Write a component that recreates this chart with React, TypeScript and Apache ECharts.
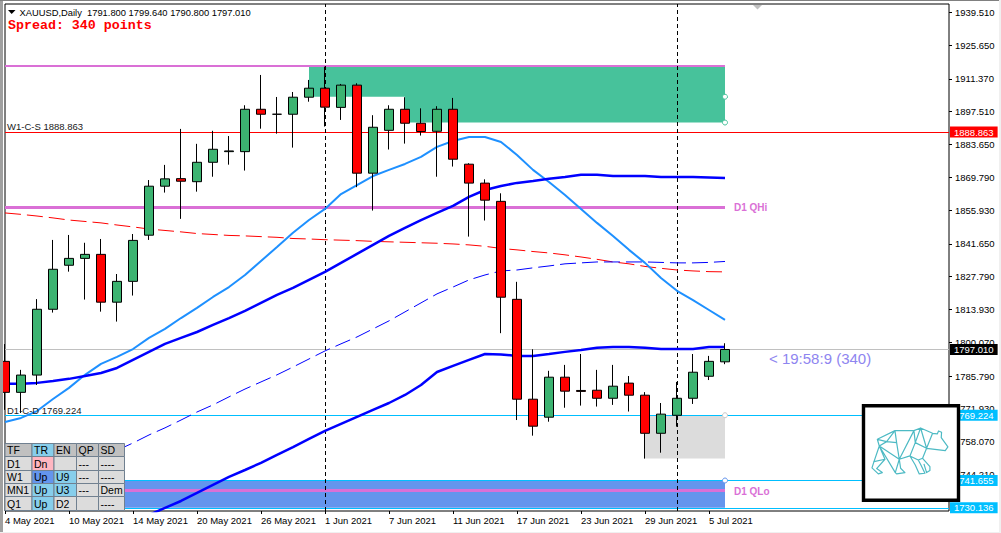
import React, { useEffect, useRef } from "react";
import * as echarts from "echarts";

const FONT = '"Liberation Sans", Arial, sans-serif';

const dates = [
  "4 May 2021","5 May 2021","6 May 2021","7 May 2021","10 May 2021","11 May 2021","12 May 2021","13 May 2021",
  "14 May 2021","17 May 2021","18 May 2021","19 May 2021","20 May 2021","21 May 2021","24 May 2021","25 May 2021",
  "26 May 2021","27 May 2021","28 May 2021","31 May 2021","1 Jun 2021","2 Jun 2021","3 Jun 2021","4 Jun 2021",
  "7 Jun 2021","8 Jun 2021","9 Jun 2021","10 Jun 2021","11 Jun 2021","14 Jun 2021","15 Jun 2021","16 Jun 2021",
  "17 Jun 2021","18 Jun 2021","21 Jun 2021","22 Jun 2021","23 Jun 2021","24 Jun 2021","25 Jun 2021","28 Jun 2021",
  "29 Jun 2021","30 Jun 2021","1 Jul 2021","2 Jul 2021","5 Jul 2021","6 Jul 2021",
];
const futureSlots = ["+1","+2","+3","+4","+5","+6","+7","+8","+9","+10","+11","+12","+13","+14"];

// open, close, low, high
const ohlc = [
  [1792.0,1778.9,1771.5,1799.3],[1778.9,1786.2,1770.2,1788.4],[1786.2,1814.0,1782.0,1818.3],[1814.0,1830.9,1812.6,1843.3],
  [1832.6,1835.5,1829.9,1845.4],[1835.5,1837.2,1818.1,1842.1],[1837.2,1817.0,1813.0,1843.7],[1817.0,1825.8,1808.8,1828.9],
  [1825.8,1843.1,1819.8,1845.8],[1845.3,1866.0,1843.3,1868.6],[1866.0,1869.1,1863.3,1875.0],[1869.2,1868.1,1852.2,1890.2],
  [1867.9,1876.1,1863.7,1883.9],[1876.1,1881.6,1870.0,1889.4],[1880.6,1880.9,1875.1,1887.2],[1880.6,1898.5,1872.6,1900.2],
  [1898.5,1896.4,1890.3,1913.0],[1896.4,1896.4,1888.2,1903.7],[1896.4,1903.6,1882.3,1905.8],[1903.6,1907.4,1901.7,1910.9],
  [1907.4,1899.4,1891.2,1916.5],[1899.3,1908.7,1894.0,1909.2],[1908.7,1871.5,1865.6,1909.5],[1871.5,1890.9,1855.7,1896.0],
  [1889.6,1898.5,1881.5,1900.2],[1898.5,1892.6,1884.0,1903.6],[1892.6,1889.1,1887.4,1898.9],[1889.2,1898.5,1870.0,1899.8],
  [1898.5,1877.4,1874.3,1903.3],[1875.3,1867.3,1844.7,1875.7],[1867.3,1860.1,1851.5,1868.9],[1859.6,1819.1,1803.9,1863.0],
  [1818.2,1776.0,1767.2,1825.6],[1776.0,1764.6,1760.6,1797.1],[1768.4,1785.3,1766.5,1788.0],[1785.3,1779.4,1772.4,1790.5],
  [1779.7,1779.3,1773.3,1795.1],[1779.8,1776.4,1772.9,1788.4],[1776.4,1781.5,1773.6,1790.5],[1782.8,1777.7,1770.8,1785.8],
  [1777.7,1761.6,1750.9,1779.0],[1761.6,1769.7,1753.4,1774.4],[1769.2,1776.4,1764.4,1783.3],[1776.4,1787.4,1774.0,1795.1],
  [1785.7,1792.0,1784.1,1794.3],[1791.8,1797.01,1790.8,1799.64],
];

const maLight = [
  1766.4,1768.1,1771.0,1776.1,1780.8,1786.3,1790.9,1793.9,1797.2,1801.9,1805.7,1810.3,1814.6,1819.2,1823.4,1828.5,
  1834.4,1840.3,1846.3,1851.7,1856.4,1862.7,1866.5,1870.3,1872.9,1875.4,1878.4,1882.6,1885.1,1886.8,1886.8,1884.7,
  1879.2,1872.9,1867.8,1862.3,1856.4,1850.5,1845.0,1839.1,1833.6,1827.2,1821.8,1817.9,1813.7,1809.5,
];
const maBlueUpper = [
  1782.5,1782.5,1782.9,1783.7,1784.6,1785.8,1787.1,1789.2,1792.6,1796.0,1799.4,1801.9,1804.4,1807.4,1810.3,1813.3,
  1816.7,1820.1,1823.0,1826.4,1829.8,1833.6,1837.4,1841.2,1845.0,1848.4,1851.7,1854.7,1857.7,1861.5,1864.4,1866.1,
  1867.4,1868.2,1869.1,1869.9,1870.8,1870.8,1870.3,1870.3,1870.3,1869.9,1869.9,1869.9,1869.7,1869.5,
];
const maBlueLower = [
  null,null,null,null,null,null,null,null,null,1727.1,1730.1,1733.0,1736.4,1739.8,1743.2,1746.1,
  1749.1,1752.5,1755.8,1759.2,1762.6,1765.6,1768.5,1771.5,1774.4,1777.8,1782.0,1787.5,1790.1,1792.6,1795.1,1794.9,
  1794.3,1794.3,1795.1,1796.0,1796.8,1797.7,1798.1,1798.1,1797.7,1797.2,1797.2,1797.2,1798.1,1798.1,
];
const maDashedBlue = [
  null,null,null,null,null,null,null,1754.4,1757.5,1760.9,1763.9,1767.2,1770.6,1773.6,1777.0,1780.3,
  1783.3,1786.3,1789.6,1793.0,1796.4,1799.4,1802.3,1805.7,1809.1,1812.9,1816.7,1820.5,1823.4,1826.4,1828.5,1830.2,
  1830.6,1831.5,1832.3,1833.2,1833.6,1834.0,1834.0,1834.0,1834.0,1833.8,1833.6,1833.6,1833.8,1834.2,
];
const maDashedRed = [
  1854.7,1854.1,1853.4,1852.6,1851.7,1851.1,1850.5,1849.6,1848.8,1847.9,1847.3,1846.7,1846.0,1845.6,1845.2,1845.0,
  1844.7,1844.4,1843.9,1843.7,1843.4,1843.2,1843.0,1842.7,1842.5,1842.3,1842.1,1841.9,1841.6,1841.2,1840.6,1839.7,
  1839.1,1838.4,1837.8,1837.0,1836.1,1835.1,1834.0,1833.2,1832.1,1831.3,1830.6,1830.2,1829.9,1829.8,
];

const priceTicks = [
  1939.51,1925.65,1911.37,1897.51,1883.65,1869.79,1855.93,1841.65,1827.79,1813.93,1800.07,1785.79,1771.93,1758.07,1744.21,
];

const levelResistance = 1888.863;
const levelCurrent = 1797.01;
const levelDemand = 1769.224;
const levelZoneTop = 1741.655;
const levelZoneBottom = 1730.136;
const levelQHigh = 1916.8;
const levelQHi = 1857.0;
const levelQLo = 1737.5;

const supplyTop = 1916.4;
const supplyMid = 1903.8;
const supplyBottom = 1892.9;
const greyBottom = 1751.0;

const tableCols = ["TF", "TR", "EN", "QP", "SD"];
const tableRows = [
  ["D1", "Dn", "", "---", "----"],
  ["W1", "Up", "U9", "---", "----"],
  ["MN1", "Up", "U3", "---", "Dem"],
  ["Q1", "Up", "D2", "", "----"],
];
const SKY = "#87CEEB";
const tableFills = [
  ["#C0C0C0", SKY, "#C0C0C0", "#C0C0C0", "#C0C0C0"],
  ["#DCDCDC", "#FFB6C1", "#DCDCDC", "#DCDCDC", "#DCDCDC"],
  ["#DCDCDC", "#6495ED", SKY, "#DCDCDC", "#DCDCDC"],
  ["#DCDCDC", SKY, SKY, "#DCDCDC", "#DCDCDC"],
  ["#DCDCDC", SKY, "#DCDCDC", "#DCDCDC", "#DCDCDC"],
];

const bearPath =
  "M82 118 L135 92 L192 92 L212 84 L248 100 L262 102 L266 93 L275 97 L274 113 L294 141 L286 152 L230 145 " +
  "M135 92 L110 125 L82 118 L88 138 L110 125 L140 128 L135 92 M140 128 L148 178 L192 92 " +
  "M88 138 L148 178 L180 168 L196 128 L192 92 M196 128 L212 84 L230 145 L248 100 " +
  "M196 128 L230 145 L218 175 L205 180 L180 168 L196 195 L208 222 L225 220 L213 195 L205 180 " +
  "M218 175 L240 200 L240 212 L230 218 L222 192 M88 138 L72 185 L105 178 L88 138 " +
  "M72 185 L66 204 L85 222 L97 218 L80 206 L105 178 M88 138 L136 218 L140 222 L165 218 L152 205 L148 178 L136 218";
echarts.graphic.registerShape("bearLogo", echarts.graphic.extendPath(bearPath, {}));

function boxedLevel(value: number, bg: string, lineColor: string = bg) {
  return {
    yAxis: value,
    lineStyle: { color: lineColor, width: 1, type: "solid" },
    label: {
      show: true,
      position: "end",
      distance: 1,
      formatter: value.toFixed(3),
      color: "#fff",
      backgroundColor: bg,
      padding: [1, 4, 0, 4],
      fontSize: 9.5,
      fontFamily: FONT,
    },
  };
}

function segment(value: number, width: number, color: string) {
  return [
    { coord: [0, value], lineStyle: { color, width, type: "solid" }, label: { show: false } },
    { coord: [45, value] },
  ];
}

function handle(value: number, color: string) {
  return {
    coord: [45, value],
    symbol: "circle",
    symbolSize: 5,
    itemStyle: { color: "#fff", borderColor: color, borderWidth: 1 },
  };
}

function buildTable() {
  const xs = [5, 32, 54, 76.5, 98.5, 124.5];
  const ys = [443.5, 456.5, 470.5, 483.5, 496.5, 510.5];
  const out: any[] = [];
  [tableCols, ...tableRows].forEach((row, r) => {
    row.forEach((cell, c) => {
      out.push({
        type: "rect",
        z: 60,
        shape: { x: xs[c], y: ys[r], width: xs[c + 1] - xs[c], height: ys[r + 1] - ys[r] },
        style: { fill: tableFills[r][c], stroke: "#708090", lineWidth: 1 },
      });
      if (cell) {
        out.push({
          type: "text",
          z: 61,
          x: xs[c] + 2,
          y: (ys[r] + ys[r + 1]) / 2,
          style: { text: cell, fill: "#000", font: `10.5px ${FONT}`, textAlign: "left", textVerticalAlign: "middle" },
        });
      }
    });
  });
  return out;
}

function label(x: number, y: number, text: string, fill: string, font: string) {
  return { type: "text", z: 50, x, y, style: { text, fill, font, textAlign: "left", textVerticalAlign: "middle" } };
}

export default function App() {
  const ref = useRef<HTMLDivElement>(null);
  useEffect(() => {
    if (!ref.current) return;
    const chart = echarts.init(ref.current, undefined, { renderer: "svg" });
    const labelled = (i: number) => i % 4 === 0 && i <= 44;
    const maSeries = (name: string, data: any[], color: string, width: number, dash?: number[]) => ({
      name,
      type: "line",
      data,
      z: 5,
      symbol: "none",
      showSymbol: false,
      clip: true,
      silent: true,
      lineStyle: { color, width, type: dash || "solid" },
    });
    chart.setOption({
      animation: false,
      backgroundColor: "#fff",
      grid: { left: 5, right: 52, top: 4, bottom: 22, show: true, borderColor: "#000", borderWidth: 1, backgroundColor: "#fff" },
      xAxis: {
        type: "category",
        data: [...dates, ...futureSlots],
        boundaryGap: false,
        axisLine: { show: false },
        axisTick: { show: true, length: 3, interval: (i: number) => labelled(i), lineStyle: { color: "#000" } },
        axisLabel: {
          show: true,
          interval: (i: number) => labelled(i),
          align: "left",
          margin: 4,
          color: "#000",
          fontSize: 9.5,
          fontFamily: FONT,
          hideOverlap: false,
        },
        splitLine: { show: false },
      },
      yAxis: {
        type: "value",
        position: "right",
        min: 1728.77,
        max: 1942.98,
        scale: true,
        axisLine: { show: false },
        axisTick: { show: true, length: 3, customValues: priceTicks, lineStyle: { color: "#000" } },
        axisLabel: {
          show: true,
          customValues: priceTicks,
          formatter: (v: number) => v.toFixed(3),
          margin: 6,
          color: "#000",
          fontSize: 9.5,
          fontFamily: FONT,
        },
        splitLine: { show: false },
      },
      series: [
        {
          name: "zones",
          type: "line",
          data: [],
          z: 1,
          silent: true,
          markArea: {
            z: 1,
            silent: true,
            data: [
              [{ coord: [19, supplyTop], itemStyle: { color: "#47C29B", opacity: 1 } }, { coord: [45, supplyMid] }],
              [{ coord: [25, supplyTop], itemStyle: { color: "#47C29B", opacity: 1 } }, { coord: [45, supplyBottom] }],
              [{ coord: [40, levelDemand], itemStyle: { color: "#DCDCDC", opacity: 1 } }, { coord: [45, greyBottom] }],
              [{ coord: [0, levelZoneTop], itemStyle: { color: "#6495ED", opacity: 1 } }, { coord: [45, levelZoneBottom] }],
            ],
          },
        },
        {
          name: "levels",
          type: "line",
          data: [],
          z: 2,
          silent: true,
          markLine: {
            z: 2,
            silent: true,
            symbol: "none",
            animation: false,
            data: [
              boxedLevel(levelResistance, "#FF0000"),
              boxedLevel(levelCurrent, "#000000", "#C0C0C0"),
              boxedLevel(levelDemand, "#00BFFF"),
              boxedLevel(levelZoneTop, "#00BFFF"),
              boxedLevel(levelZoneBottom, "#00BFFF"),
              segment(levelQHigh, 2, "#DA70D6"),
              segment(levelQHi, 3, "#DA70D6"),
              segment(levelQLo, 3, "#DA70D6"),
              { xAxis: 20, lineStyle: { color: "#000", width: 1, type: [4, 3] }, label: { show: false } },
              { xAxis: 42, lineStyle: { color: "#000", width: 1, type: [4, 3] }, label: { show: false } },
            ],
          },
          markPoint: {
            z: 3,
            silent: true,
            label: { show: false },
            data: [
              handle(supplyMid, "#47C29B"),
              handle(supplyBottom, "#47C29B"),
              handle(levelDemand, "#C8C8C8"),
              handle(levelZoneTop, "#6495ED"),
            ],
          },
        },
        maSeries("MA red", maDashedRed, "#FF0000", 1, [16, 6]),
        maSeries("MA thin", maDashedBlue, "#0000FF", 1, [16, 6]),
        maSeries("MA light", maLight, "#1E90FF", 2),
        maSeries("MA blue upper", maBlueUpper, "#0000FF", 2.5),
        maSeries("MA blue lower", maBlueLower, "#0000FF", 2.5),
        {
          name: "XAUUSD",
          type: "candlestick",
          data: ohlc,
          z: 10,
          clip: true,
          silent: true,
          barWidth: 10,
          itemStyle: {
            color: "#3CB371",
            color0: "#FF0000",
            borderColor: "#000",
            borderColor0: "#000",
            borderColorDoji: "#000",
            borderWidth: 1,
          },
        },
      ],
      graphic: [
        { type: "rect", z: 40, shape: { x: 0, y: 0, width: 3, height: 533 }, style: { fill: "#A0A0A0" } },
        { type: "rect", z: 40, shape: { x: 0, y: 0, width: 1001, height: 1 }, style: { fill: "#808080" } },
        { type: "rect", z: 40, shape: { x: 999, y: 0, width: 2, height: 533 }, style: { fill: "#F0F0F0" } },
        { type: "rect", z: 40, shape: { x: 0, y: 532, width: 1001, height: 1 }, style: { fill: "#F0F0F0" } },
        { type: "polygon", z: 50, shape: { points: [[8, 10], [15.5, 10], [11.7, 14]] }, style: { fill: "#000" } },
        { type: "polygon", z: 50, shape: { points: [[753, 5], [762, 5], [757.5, 9.5]] }, style: { fill: "#C0C0C0" } },
        label(19.5, 12.5, "XAUUSD,Daily  1791.800 1799.640 1790.800 1797.010", "#000", `9.35px ${FONT}`),
        label(8, 25, "Spread: 340 points", "#FF0000", `bold 13.3px "Liberation Mono", monospace`),
        label(7, 126.5, "W1-C-S 1888.863", "#1a1a1a", `9.5px ${FONT}`),
        label(7, 410, "D1-C-D 1769.224", "#1a1a1a", `9.5px ${FONT}`),
        label(734, 207.5, "D1 QHi", "#DA70D6", `bold 10px ${FONT}`),
        label(734, 491, "D1 QLo", "#DA70D6", `bold 10px ${FONT}`),
        label(769, 358, "< 19:58:9 (340)", "#8E85F0", `15px ${FONT}`),
        ...buildTable(),
        {
          type: "rect",
          z: 70,
          shape: { x: 863.5, y: 405.7, width: 95, height: 94.5 },
          style: { fill: "#fff", stroke: "#000", lineWidth: 3.4 },
        },
        {
          type: "bearLogo",
          z: 71,
          x: 850,
          y: 400,
          scaleX: 1 / 3,
          scaleY: 1 / 3,
          style: { fill: "none", stroke: "#4DBAC4", lineWidth: 3.6, lineJoin: "round" },
        },
      ],
    });
    return () => chart.dispose();
  }, []);
  return <div ref={ref} style={{ position: "absolute", left: 0, top: 0, width: 1001, height: 533 }} />;
}
